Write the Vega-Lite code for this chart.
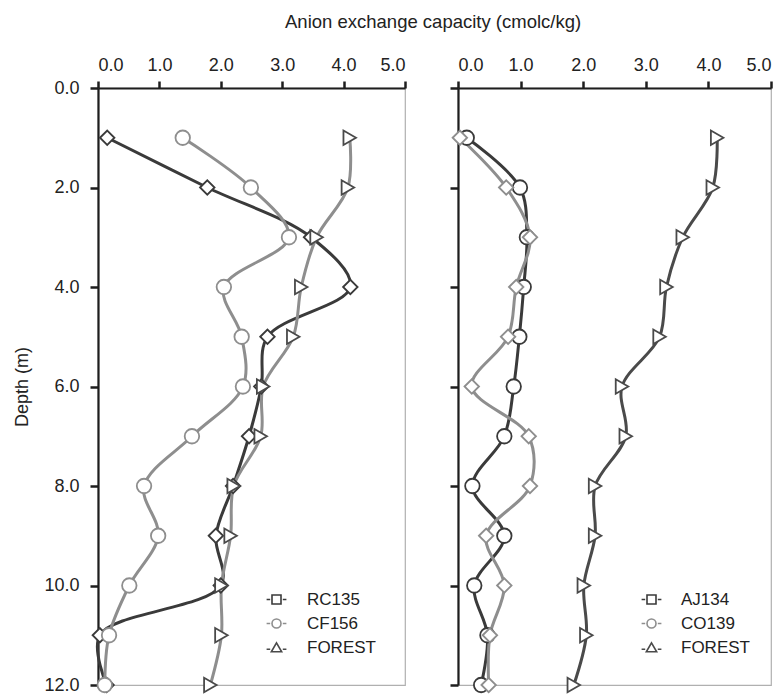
{
  "$schema": "https://vega.github.io/schema/vega-lite/v6.json",
  "autosize": {"type": "pad"},
  "padding": {"left": 13, "top": 12, "right": 0, "bottom": 0},
  "background": "white",
  "title": {"text": "Anion exchange capacity (cmolc/kg)", "anchor": "middle", "fontSize": 18.5, "fontWeight": "normal", "color": "#222", "offset": 24, "dx": 40},
  "datasets": {
    "aec": [
      {"panel": "A", "series": "RC135", "depth": 1, "aec": 0.15},
      {"panel": "A", "series": "RC135", "depth": 2, "aec": 1.78},
      {"panel": "A", "series": "RC135", "depth": 3, "aec": 3.47},
      {"panel": "A", "series": "RC135", "depth": 4, "aec": 4.11},
      {"panel": "A", "series": "RC135", "depth": 5, "aec": 2.76},
      {"panel": "A", "series": "RC135", "depth": 6, "aec": 2.66},
      {"panel": "A", "series": "RC135", "depth": 7, "aec": 2.46},
      {"panel": "A", "series": "RC135", "depth": 8, "aec": 2.20},
      {"panel": "A", "series": "RC135", "depth": 9, "aec": 1.92},
      {"panel": "A", "series": "RC135", "depth": 10, "aec": 2.00},
      {"panel": "A", "series": "RC135", "depth": 11, "aec": 0.03},
      {"panel": "A", "series": "RC135", "depth": 12, "aec": 0.14},
      {"panel": "A", "series": "CF156", "depth": 1, "aec": 1.38},
      {"panel": "A", "series": "CF156", "depth": 2, "aec": 2.49},
      {"panel": "A", "series": "CF156", "depth": 3, "aec": 3.11},
      {"panel": "A", "series": "CF156", "depth": 4, "aec": 2.05},
      {"panel": "A", "series": "CF156", "depth": 5, "aec": 2.34},
      {"panel": "A", "series": "CF156", "depth": 6, "aec": 2.36},
      {"panel": "A", "series": "CF156", "depth": 7, "aec": 1.53},
      {"panel": "A", "series": "CF156", "depth": 8, "aec": 0.75},
      {"panel": "A", "series": "CF156", "depth": 9, "aec": 0.98},
      {"panel": "A", "series": "CF156", "depth": 10, "aec": 0.51},
      {"panel": "A", "series": "CF156", "depth": 11, "aec": 0.18},
      {"panel": "A", "series": "CF156", "depth": 12, "aec": 0.11},
      {"panel": "A", "series": "FOREST", "depth": 1, "aec": 4.10},
      {"panel": "A", "series": "FOREST", "depth": 2, "aec": 4.07},
      {"panel": "A", "series": "FOREST", "depth": 3, "aec": 3.56},
      {"panel": "A", "series": "FOREST", "depth": 4, "aec": 3.31},
      {"panel": "A", "series": "FOREST", "depth": 5, "aec": 3.18},
      {"panel": "A", "series": "FOREST", "depth": 6, "aec": 2.69},
      {"panel": "A", "series": "FOREST", "depth": 7, "aec": 2.65},
      {"panel": "A", "series": "FOREST", "depth": 8, "aec": 2.21},
      {"panel": "A", "series": "FOREST", "depth": 9, "aec": 2.16},
      {"panel": "A", "series": "FOREST", "depth": 10, "aec": 2.01},
      {"panel": "A", "series": "FOREST", "depth": 11, "aec": 2.01},
      {"panel": "A", "series": "FOREST", "depth": 12, "aec": 1.83},
      {"panel": "B", "series": "AJ134", "depth": 1, "aec": 0.14},
      {"panel": "B", "series": "AJ134", "depth": 2, "aec": 0.99},
      {"panel": "B", "series": "AJ134", "depth": 3, "aec": 1.10},
      {"panel": "B", "series": "AJ134", "depth": 4, "aec": 1.05},
      {"panel": "B", "series": "AJ134", "depth": 5, "aec": 0.98},
      {"panel": "B", "series": "AJ134", "depth": 6, "aec": 0.89},
      {"panel": "B", "series": "AJ134", "depth": 7, "aec": 0.74},
      {"panel": "B", "series": "AJ134", "depth": 8, "aec": 0.23},
      {"panel": "B", "series": "AJ134", "depth": 9, "aec": 0.74},
      {"panel": "B", "series": "AJ134", "depth": 10, "aec": 0.26},
      {"panel": "B", "series": "AJ134", "depth": 11, "aec": 0.47},
      {"panel": "B", "series": "AJ134", "depth": 12, "aec": 0.37},
      {"panel": "B", "series": "CO139", "depth": 1, "aec": 0.03},
      {"panel": "B", "series": "CO139", "depth": 2, "aec": 0.77},
      {"panel": "B", "series": "CO139", "depth": 3, "aec": 1.15},
      {"panel": "B", "series": "CO139", "depth": 4, "aec": 0.93},
      {"panel": "B", "series": "CO139", "depth": 5, "aec": 0.80},
      {"panel": "B", "series": "CO139", "depth": 6, "aec": 0.22},
      {"panel": "B", "series": "CO139", "depth": 7, "aec": 1.13},
      {"panel": "B", "series": "CO139", "depth": 8, "aec": 1.15},
      {"panel": "B", "series": "CO139", "depth": 9, "aec": 0.45},
      {"panel": "B", "series": "CO139", "depth": 10, "aec": 0.74},
      {"panel": "B", "series": "CO139", "depth": 11, "aec": 0.51},
      {"panel": "B", "series": "CO139", "depth": 12, "aec": 0.49},
      {"panel": "B", "series": "FOREST", "depth": 1, "aec": 4.14},
      {"panel": "B", "series": "FOREST", "depth": 2, "aec": 4.07},
      {"panel": "B", "series": "FOREST", "depth": 3, "aec": 3.59},
      {"panel": "B", "series": "FOREST", "depth": 4, "aec": 3.33},
      {"panel": "B", "series": "FOREST", "depth": 5, "aec": 3.22},
      {"panel": "B", "series": "FOREST", "depth": 6, "aec": 2.62},
      {"panel": "B", "series": "FOREST", "depth": 7, "aec": 2.68},
      {"panel": "B", "series": "FOREST", "depth": 8, "aec": 2.19},
      {"panel": "B", "series": "FOREST", "depth": 9, "aec": 2.19},
      {"panel": "B", "series": "FOREST", "depth": 10, "aec": 2.01},
      {"panel": "B", "series": "FOREST", "depth": 11, "aec": 2.05},
      {"panel": "B", "series": "FOREST", "depth": 12, "aec": 1.85}
    ]
  },
  "data": {"name": "aec"},
  "bounds": "flush",
  "spacing": 53,
  "hconcat": [
    {
      "width": 307,
      "height": 597,
      "transform": [{"filter": "datum.panel === 'A'"}],
      "layer": [
        {
          "mark": {"type": "line", "interpolate": "catmull-rom", "strokeWidth": 3},
          "encoding": {
            "x": {"field": "aec", "type": "quantitative", "scale": {"domain": [0, 5], "nice": false, "zero": false}, "axis": {"orient": "top", "values": [0, 1, 2, 3, 4, 5], "format": ".1f", "title": null}},
            "y": {"field": "depth", "type": "quantitative", "scale": {"domain": [0, 12], "reverse": true, "nice": false}, "axis": {"values": [0, 2, 4, 6, 8, 10, 12], "format": ".1f", "title": "Depth (m)"}},
            "color": {"field": "series", "type": "nominal", "scale": {"domain": ["FOREST", "RC135", "CF156"], "range": ["#8e8e8e", "#3a3a3a", "#8e8e8e"]}, "legend": null},
            "order": {"field": "depth", "type": "quantitative"}
          }
        },
        {
          "mark": {"type": "point", "filled": false, "fill": "white", "fillOpacity": 1, "strokeWidth": 1.8, "size": 210, "opacity": 1},
          "encoding": {
            "x": {"field": "aec", "type": "quantitative"},
            "y": {"field": "depth", "type": "quantitative"},
            "shape": {"field": "series", "type": "nominal", "scale": {"domain": ["RC135", "CF156", "FOREST"], "range": ["diamond", "circle", "triangle-right"]}, "legend": null},
            "stroke": {"field": "series", "type": "nominal", "scale": {"domain": ["RC135", "CF156", "FOREST"], "range": ["#3a3a3a", "#8e8e8e", "#4a4a4a"]}, "legend": null}
          }
        },
        {
          "transform": [{"filter": "false"}],
          "mark": {"type": "point", "filled": false, "fill": "white", "fillOpacity": 1, "strokeWidth": 1.6, "size": 81, "opacity": 1},
          "encoding": {
            "x": {"field": "aec", "type": "quantitative"},
            "y": {"field": "depth", "type": "quantitative"},
            "shape": {"field": "series", "type": "nominal",
              "scale": {"domain": ["RC135", "CF156", "FOREST"], "range": ["M-2.2,0H-1.4M1.4,0H2.2M-1,-1H1V1H-1Z", "M-2.2,0H-1.4M1.4,0H2.2M-1,0A1,1,0,1,0,1,0A1,1,0,1,0,-1,0Z", "M-2.2,0.4H-1.4M1.4,0.4H2.2M0,-1.05L1.15,0.95H-1.15Z"]},
              "legend": {"title": null, "orient": "none", "legendX": 170, "legendY": 503, "labelFontSize": 17, "labelColor": "#222", "rowPadding": 6, "labelOffset": 22, "symbolSize": 81, "symbolStrokeWidth": 1.6, "symbolFillColor": "white"}},
            "stroke": {"field": "series", "type": "nominal", "scale": {"domain": ["RC135", "CF156", "FOREST"], "range": ["#3a3a3a", "#8e8e8e", "#4a4a4a"]},
              "legend": {"title": null, "orient": "none", "legendX": 170, "legendY": 503, "labelFontSize": 17, "labelColor": "#222", "rowPadding": 6, "labelOffset": 22, "symbolSize": 81, "symbolStrokeWidth": 1.6, "symbolFillColor": "white"}}
          }
        }
      ],
      "resolve": {
        "scale": {"shape": "independent", "stroke": "independent"},
        "legend": {"shape": "independent", "stroke": "independent"}
      }
    },
    {
      "width": 313,
      "height": 597,
      "transform": [{"filter": "datum.panel === 'B'"}],
      "layer": [
        {
          "mark": {"type": "line", "interpolate": "catmull-rom", "strokeWidth": 3},
          "encoding": {
            "x": {"field": "aec", "type": "quantitative", "scale": {"domain": [0, 5], "nice": false, "zero": false}, "axis": {"orient": "top", "values": [0, 1, 2, 3, 4, 5], "format": ".1f", "title": null}},
            "y": {"field": "depth", "type": "quantitative", "scale": {"domain": [0, 12], "reverse": true, "nice": false}, "axis": {"values": [0, 2, 4, 6, 8, 10, 12], "labels": false, "title": null}},
            "color": {"field": "series", "type": "nominal", "scale": {"domain": ["FOREST", "AJ134", "CO139"], "range": ["#4a4a4a", "#3a3a3a", "#8e8e8e"]}, "legend": null},
            "order": {"field": "depth", "type": "quantitative"}
          }
        },
        {
          "mark": {"type": "point", "filled": false, "fill": "white", "fillOpacity": 1, "strokeWidth": 1.8, "size": 210, "opacity": 1},
          "encoding": {
            "x": {"field": "aec", "type": "quantitative"},
            "y": {"field": "depth", "type": "quantitative"},
            "shape": {"field": "series", "type": "nominal", "scale": {"domain": ["AJ134", "CO139", "FOREST"], "range": ["circle", "diamond", "triangle-right"]}, "legend": null},
            "stroke": {"field": "series", "type": "nominal", "scale": {"domain": ["AJ134", "CO139", "FOREST"], "range": ["#3a3a3a", "#8e8e8e", "#4a4a4a"]}, "legend": null}
          }
        },
        {
          "transform": [{"filter": "false"}],
          "mark": {"type": "point", "filled": false, "fill": "white", "fillOpacity": 1, "strokeWidth": 1.6, "size": 81, "opacity": 1},
          "encoding": {
            "x": {"field": "aec", "type": "quantitative"},
            "y": {"field": "depth", "type": "quantitative"},
            "shape": {"field": "series", "type": "nominal",
              "scale": {"domain": ["AJ134", "CO139", "FOREST"], "range": ["M-2.2,0H-1.4M1.4,0H2.2M-1,-1H1V1H-1Z", "M-2.2,0H-1.4M1.4,0H2.2M-1,0A1,1,0,1,0,1,0A1,1,0,1,0,-1,0Z", "M-2.2,0.4H-1.4M1.4,0.4H2.2M0,-1.05L1.15,0.95H-1.15Z"]},
              "legend": {"title": null, "orient": "none", "legendX": 185, "legendY": 503, "labelFontSize": 17, "labelColor": "#222", "rowPadding": 6, "labelOffset": 21, "symbolSize": 81, "symbolStrokeWidth": 1.6, "symbolFillColor": "white"}},
            "stroke": {"field": "series", "type": "nominal", "scale": {"domain": ["AJ134", "CO139", "FOREST"], "range": ["#3a3a3a", "#8e8e8e", "#4a4a4a"]},
              "legend": {"title": null, "orient": "none", "legendX": 185, "legendY": 503, "labelFontSize": 17, "labelColor": "#222", "rowPadding": 6, "labelOffset": 21, "symbolSize": 81, "symbolStrokeWidth": 1.6, "symbolFillColor": "white"}}
          }
        }
      ],
      "resolve": {
        "scale": {"shape": "independent", "stroke": "independent"},
        "legend": {"shape": "independent", "stroke": "independent"}
      }
    }
  ],
  "resolve": {
    "scale": {"x": "independent", "y": "independent", "color": "independent", "shape": "independent", "stroke": "independent"},
    "legend": {"shape": "independent", "stroke": "independent", "color": "independent"}
  },
  "config": {
    "font": "Liberation Sans",
    "view": {"stroke": "#b0b0b0", "strokeWidth": 1.2},
    "axis": {
      "grid": false,
      "domainColor": "#1e1e1e",
      "domainWidth": 2.2,
      "tickColor": "#1e1e1e",
      "tickWidth": 2.5,
      "tickSize": 8,
      "labelFontSize": 18,
      "labelColor": "#222",
      "titleFontSize": 18,
      "titleFontWeight": "normal",
      "titleColor": "#222"
    },
    "axisX": {"labelPadding": 7, "tickSize": 7},
    "axisY": {"labelPadding": 11, "titlePadding": 12}
  }
}
